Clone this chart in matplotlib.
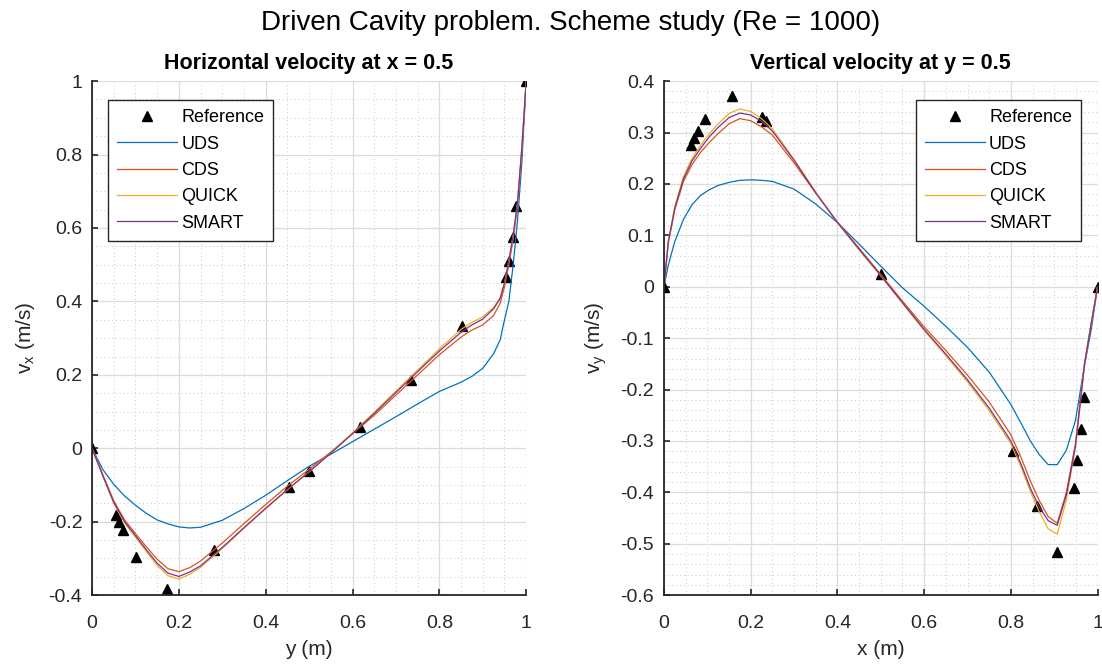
import numpy as np
import matplotlib
matplotlib.use("Agg")
import matplotlib.pyplot as plt
from matplotlib.ticker import FixedLocator, MultipleLocator, FuncFormatter

plt.rcParams['font.family'] = ['Liberation Sans', 'DejaVu Sans']
plt.rcParams['axes.unicode_minus'] = False

# Reference data (Ghia et al., Re = 1000)
ref_y = [0.0, 0.0547, 0.0625, 0.0703, 0.1016, 0.1719, 0.2813, 0.4531, 0.5000,
         0.6172, 0.7344, 0.8516, 0.9531, 0.9609, 0.9688, 0.9766, 1.0]
ref_vx = [0.0, -0.18109, -0.20196, -0.22220, -0.29730, -0.38289, -0.27805, -0.10648,
          -0.06080, 0.05702, 0.18719, 0.33304, 0.46604, 0.51117, 0.57492, 0.65928, 1.0]
ref_x = [0.0, 0.0625, 0.0703, 0.0781, 0.0938, 0.1563, 0.2266, 0.2344, 0.5000,
         0.8047, 0.8594, 0.9063, 0.9453, 0.9531, 0.9609, 0.9688, 1.0]
ref_vy = [0.0, 0.27485, 0.29012, 0.30353, 0.32627, 0.37095, 0.33075, 0.32235, 0.02526,
          -0.31966, -0.42665, -0.51550, -0.39188, -0.33714, -0.27669, -0.21388, 0.0]

# Horizontal velocity along x = 0.5
y_pos = [0, 0.025, 0.05, 0.075, 0.1, 0.125, 0.15, 0.175, 0.2, 0.225, 0.25, 0.3, 0.35,
         0.4, 0.45, 0.5, 0.55, 0.6, 0.65, 0.7, 0.75, 0.8, 0.85, 0.875, 0.9, 0.925,
         0.94, 0.95, 0.96, 0.97, 0.98, 0.99, 1.0]
vx_uds = [0, -0.058, -0.098, -0.130, -0.155, -0.177, -0.195, -0.206, -0.214, -0.217,
          -0.215, -0.196, -0.164, -0.128, -0.088, -0.049, -0.016, 0.018, 0.052, 0.086,
          0.121, 0.155, 0.180, 0.196, 0.218, 0.258, 0.295, 0.35, 0.40, 0.50, 0.62,
          0.78, 1.0]
vx_cds = [0, -0.072, -0.143, -0.195, -0.232, -0.268, -0.302, -0.328, -0.336, -0.325,
          -0.307, -0.258, -0.205, -0.153, -0.103, -0.057, -0.010, 0.040, 0.090, 0.145,
          0.200, 0.255, 0.303, 0.322, 0.336, 0.362, 0.395, 0.44, 0.50, 0.57, 0.66,
          0.81, 1.0]
vx_quick = [0, -0.076, -0.149, -0.203, -0.242, -0.281, -0.319, -0.347, -0.356, -0.343,
            -0.324, -0.273, -0.218, -0.165, -0.113, -0.064, -0.012, 0.042, 0.098, 0.156,
            0.213, 0.271, 0.324, 0.343, 0.358, 0.384, 0.41, 0.45, 0.51, 0.58, 0.67,
            0.82, 1.0]
vx_smart = [0, -0.075, -0.147, -0.200, -0.238, -0.276, -0.313, -0.340, -0.349, -0.337,
            -0.320, -0.270, -0.216, -0.163, -0.112, -0.064, -0.013, 0.040, 0.095, 0.152,
            0.209, 0.265, 0.316, 0.336, 0.352, 0.380, 0.408, 0.45, 0.51, 0.58, 0.67,
            0.82, 1.0]

# Vertical velocity along y = 0.5
x_pos = [0, 0.01, 0.025, 0.045, 0.065, 0.085, 0.105, 0.125, 0.15, 0.175, 0.2, 0.225,
         0.25, 0.3, 0.35, 0.4, 0.45, 0.5, 0.55, 0.6, 0.65, 0.7, 0.75, 0.8, 0.825,
         0.845, 0.865, 0.886, 0.907, 0.928, 0.949, 0.97, 0.985, 1.0]
vy_uds = [0, 0.042, 0.088, 0.131, 0.160, 0.178, 0.189, 0.197, 0.203, 0.207, 0.208,
          0.207, 0.205, 0.190, 0.161, 0.125, 0.083, 0.040, -0.002, -0.038, -0.077,
          -0.118, -0.166, -0.229, -0.268, -0.300, -0.326, -0.346, -0.346, -0.318,
          -0.260, -0.152, -0.085, 0]
vy_cds = [0, 0.085, 0.150, 0.205, 0.238, 0.262, 0.281, 0.298, 0.317, 0.327, 0.323,
          0.311, 0.295, 0.241, 0.182, 0.126, 0.075, 0.024, -0.028, -0.078, -0.124,
          -0.172, -0.224, -0.288, -0.335, -0.378, -0.415, -0.447, -0.460, -0.400,
          -0.305, -0.148, -0.073, 0]
vy_quick = [0, 0.088, 0.156, 0.214, 0.250, 0.276, 0.298, 0.317, 0.337, 0.346, 0.341,
            0.327, 0.307, 0.248, 0.184, 0.125, 0.072, 0.021, -0.032, -0.085, -0.134,
            -0.185, -0.241, -0.305, -0.354, -0.398, -0.437, -0.471, -0.481, -0.415,
            -0.312, -0.150, -0.073, 0]
vy_smart = [0, 0.087, 0.153, 0.210, 0.245, 0.270, 0.292, 0.310, 0.329, 0.338, 0.334,
            0.322, 0.303, 0.246, 0.183, 0.125, 0.073, 0.022, -0.031, -0.083, -0.131,
            -0.181, -0.236, -0.300, -0.348, -0.392, -0.428, -0.455, -0.464, -0.405,
            -0.310, -0.150, -0.073, 0]

colors = ['#0072BD', '#D95319', '#EDB120', '#7E2F8E']
names = ['UDS', 'CDS', 'QUICK', 'SMART']
fmt = FuncFormatter(lambda v, p: '%g' % (round(v, 6) + 0.0))

fig = plt.figure(figsize=(11.02, 6.65), dpi=100)
fig.suptitle('Driven Cavity problem. Scheme study (Re = 1000)', fontsize=20,
             x=0.518, y=0.985)

ax1 = fig.add_axes([0.0835, 0.105, 0.394, 0.773])
ax2 = fig.add_axes([0.6025, 0.105, 0.3935, 0.773])

panels = [
    (ax1, ref_y, ref_vx, y_pos, [vx_uds, vx_cds, vx_quick, vx_smart],
     'Horizontal velocity at x = 0.5', 'y (m)', r'v$_{\mathregular{x}}$ (m/s)',
     (-0.4, 1.0), np.round(np.arange(-0.4, 1.01, 0.2), 2), 0.05,
     dict(loc='upper left', bbox_to_anchor=(0.037, 0.963))),
    (ax2, ref_x, ref_vy, x_pos, [vy_uds, vy_cds, vy_quick, vy_smart],
     'Vertical velocity at y = 0.5', 'x (m)', r'v$_{\mathregular{y}}$ (m/s)',
     (-0.6, 0.4), np.round(np.arange(-0.6, 0.41, 0.1), 2), 0.02,
     dict(loc='upper right', bbox_to_anchor=(0.962, 0.963))),
]

for ax, rx, rv, pos, series, title, xlab, ylab, ylim, yticks, yminor, legkw in panels:
    ax.plot(rx, rv, '^', color='black', markersize=6.8, label='Reference')
    for vals, c, n in zip(series, colors, names):
        ax.plot(pos, vals, color=c, linewidth=0.9, label=n)
    ax.set_xlim(0, 1)
    ax.set_ylim(*ylim)
    ax.xaxis.set_major_locator(FixedLocator(np.round(np.arange(0, 1.01, 0.2), 2)))
    ax.xaxis.set_minor_locator(MultipleLocator(0.05))
    ax.yaxis.set_major_locator(FixedLocator(yticks))
    ax.yaxis.set_minor_locator(MultipleLocator(yminor))
    ax.xaxis.set_major_formatter(fmt)
    ax.yaxis.set_major_formatter(fmt)
    ax.grid(True, which='major', color='#dcdcdc', linewidth=0.9)
    ax.grid(True, which='minor', color='#c8c8c8', linewidth=0.7, linestyle=(0, (1, 3)))
    ax.set_axisbelow(True)
    for s in ['top', 'right']:
        ax.spines[s].set_visible(False)
    for s in ['left', 'bottom']:
        ax.spines[s].set_color('#262626')
        ax.spines[s].set_linewidth(1.3)
    ax.tick_params(which='major', direction='in', length=4, width=1.2,
                   colors='#262626', labelsize=14)
    ax.tick_params(axis='x', which='major', pad=14)
    ax.tick_params(axis='y', which='major', pad=7)
    ax.tick_params(which='minor', length=0)
    ax.set_title(title, fontsize=15.5, fontweight='bold', pad=9)
    ax.set_xlabel(xlab, fontsize=15, color='#262626', labelpad=6)
    ax.set_ylabel(ylab, fontsize=15, color='#262626', labelpad=8)
    leg = ax.legend(fontsize=13, borderaxespad=0, fancybox=False, framealpha=1,
                    edgecolor='#262626', handlelength=3.3, labelspacing=0.52,
                    handletextpad=0.25, borderpad=0.5, numpoints=1, **legkw)
    leg.get_frame().set_linewidth(1.0)

fig.savefig('out.png', dpi=100)
